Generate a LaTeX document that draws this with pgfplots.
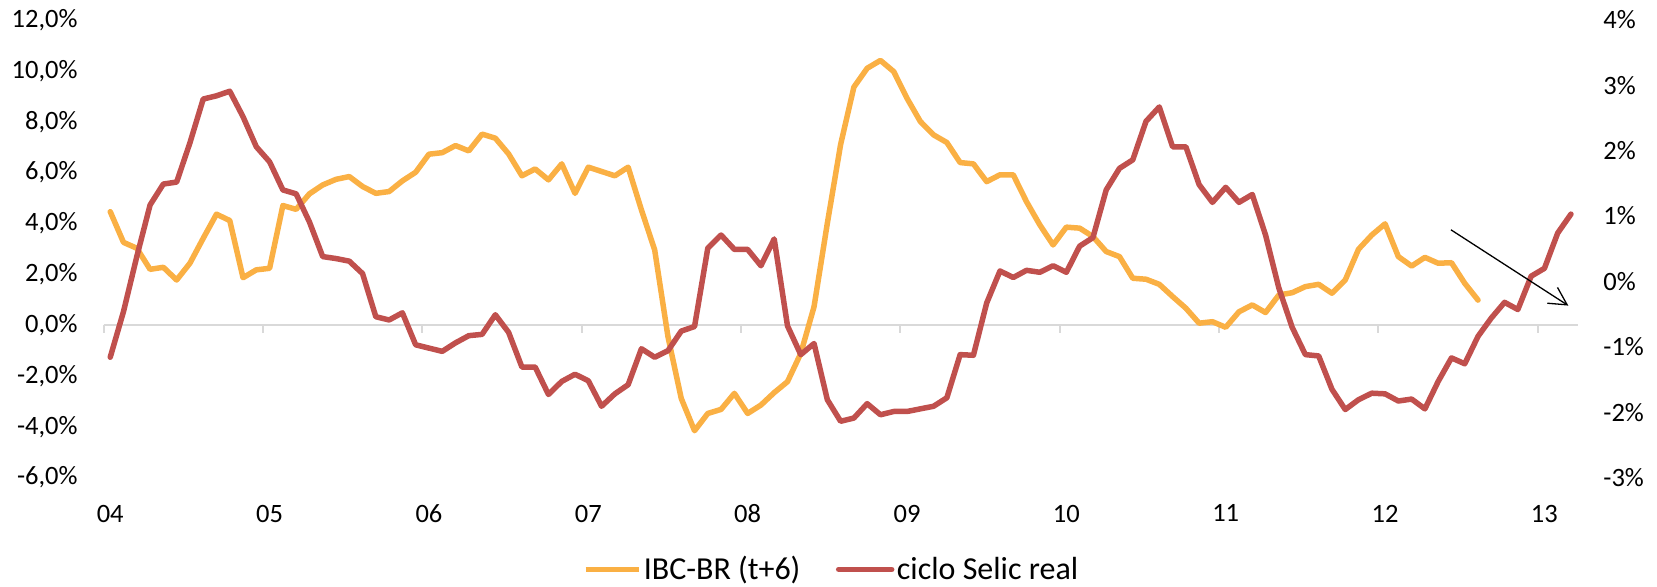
\documentclass[border=0pt]{standalone}
\usepackage{fontspec}
\setmainfont{Carlito}
\usepackage{pgfplots}
\usepackage{pgfplotstable}
\pgfplotsset{compat=1.18}
\usetikzlibrary{arrows.meta}

\definecolor{ibcorange}{RGB}{250,176,68}
\definecolor{selicred}{RGB}{192,80,77}
\definecolor{axisgray}{RGB}{217,217,217}

% month index from Jan 2004 (0) -- IBC-BR (t+6), left axis, %
\pgfplotstableread{
m v
0 4.46
1 3.25
2 3.02
3 2.19
4 2.27
5 1.77
6 2.43
7 3.41
8 4.36
9 4.11
10 1.86
11 2.17
12 2.23
13 4.70
14 4.55
15 5.16
16 5.51
17 5.73
18 5.84
19 5.45
20 5.18
21 5.25
22 5.67
23 6.01
24 6.72
25 6.78
26 7.06
27 6.85
28 7.51
29 7.35
30 6.73
31 5.87
32 6.14
33 5.71
34 6.34
35 5.18
36 6.21
37 6.04
38 5.87
39 6.21
40 4.53
41 2.95
42 -0.46
43 -2.89
44 -4.16
45 -3.48
46 -3.32
47 -2.69
48 -3.48
49 -3.15
50 -2.66
51 -2.23
52 -1.12
53 0.72
54 4.00
55 7.10
56 9.36
57 10.10
58 10.41
59 9.97
60 8.92
61 8.01
62 7.48
63 7.18
64 6.39
65 6.34
66 5.64
67 5.91
68 5.91
69 4.85
70 3.94
71 3.15
72 3.85
73 3.81
74 3.48
75 2.89
76 2.69
77 1.84
78 1.80
79 1.60
80 1.12
81 0.66
82 0.07
83 0.13
84 -0.09
85 0.52
86 0.79
87 0.49
88 1.18
89 1.27
90 1.51
91 1.60
92 1.25
93 1.77
94 2.98
95 3.54
96 3.98
97 2.69
98 2.32
99 2.66
100 2.43
101 2.45
102 1.64
103 0.98
}\ibcdata

% ciclo Selic real, right axis, %
\pgfplotstableread{
m v
0 -1.16
1 -0.46
2 0.38
3 1.17
4 1.49
5 1.52
6 2.12
7 2.79
8 2.84
9 2.91
10 2.52
11 2.06
12 1.83
13 1.40
14 1.34
15 0.91
16 0.38
17 0.35
18 0.31
19 0.12
20 -0.54
21 -0.59
22 -0.48
23 -0.97
24 -1.02
25 -1.07
26 -0.94
27 -0.83
28 -0.81
29 -0.51
30 -0.78
31 -1.31
32 -1.31
33 -1.73
34 -1.53
35 -1.42
36 -1.52
37 -1.91
38 -1.72
39 -1.58
40 -1.03
41 -1.16
42 -1.06
43 -0.76
44 -0.69
45 0.51
46 0.71
47 0.49
48 0.49
49 0.24
50 0.65
51 -0.68
52 -1.12
53 -0.95
54 -1.81
55 -2.14
56 -2.09
57 -1.87
58 -2.04
59 -1.99
60 -1.99
61 -1.95
62 -1.91
63 -1.78
64 -1.12
65 -1.13
66 -0.33
67 0.16
68 0.06
69 0.17
70 0.14
71 0.24
72 0.14
73 0.54
74 0.67
75 1.40
76 1.73
77 1.86
78 2.45
79 2.67
80 2.06
81 2.06
82 1.48
83 1.21
84 1.44
85 1.21
86 1.33
87 0.71
88 -0.10
89 -0.70
90 -1.12
91 -1.14
92 -1.65
93 -1.96
94 -1.81
95 -1.71
96 -1.72
97 -1.83
98 -1.80
99 -1.95
100 -1.53
101 -1.17
102 -1.26
103 -0.84
104 -0.56
105 -0.32
106 -0.43
107 0.08
108 0.20
109 0.74
110 1.03
}\selicdata

\pgfplotsset{
  base/.style={
    at={(0,0)}, anchor=south west,
    scale only axis, width=737pt, height=228.75pt,
    xmin=-0.5, xmax=110.5,
    axis line style={draw=none},
    major tick length=0pt,
    clip=false,
    ticklabel style={font=\fontsize{13.25}{15}\selectfont, text=black},
  },
  ibcline/.style={color=ibcorange, line width=2.75pt, line join=round, line cap=round},
  selicline/.style={color=selicred, line width=2.75pt, line join=round, line cap=round},
}

\begin{document}
\begin{tikzpicture}
\useasboundingbox (-51.8pt,-54.75pt) rectangle (776.7pt,238.75pt);

\begin{axis}[base,
  ymin=-6, ymax=12,
  axis x line*=bottom, axis y line*=left,
  ytick={-6,-4,...,12},
  yticklabels={{-6,0\%},{-4,0\%},{-2,0\%},{0,0\%},{2,0\%},{4,0\%},{6,0\%},{8,0\%},{10,0\%},{12,0\%}},
  yticklabel style={anchor=east, inner sep=0pt, xshift=-12.8pt},
  xtick={0,12,...,108},
  xticklabels={04,05,06,07,08,09,10,11,12,13},
  xticklabel style={anchor=north, inner sep=0pt, yshift=-13.5pt},
]
\draw[axisgray, line width=1pt] (axis cs:-0.5,0) -- (axis cs:110.5,0);
\pgfplotsinvokeforeach{-0.5,11.5,23.5,35.5,47.5,59.5,71.5,83.5,95.5,107.5}{
  \draw[axisgray, line width=1pt] (axis cs:#1,0) -- ++(0pt,-4pt);
}
\addplot[ibcline] table[x=m, y=v] {\ibcdata};
\end{axis}

\begin{axis}[base,
  ymin=-3, ymax=4,
  axis x line=none, axis y line*=right,
  ytick={-3,-2,...,4},
  yticklabels={-3\%,-2\%,-1\%,0\%,1\%,2\%,3\%,4\%},
  yticklabel style={anchor=west, inner sep=0pt, xshift=12.7pt},
  legend columns=-1,
  legend style={draw=none, fill=none, at={(0.494,-0.201)}, anchor=center,
    font=\fontsize{16}{19}\selectfont,
    nodes={inner sep=1.25pt},
    /tikz/every even column/.append style={column sep=16.5pt}},
  legend image code/.code={\draw[#1] (0pt,0pt) -- (26.5pt,0pt);},
]
\addlegendimage{ibcline, line cap=butt}
\addlegendentry{IBC-BR (t+6)}
\addplot[selicline] table[x=m, y=v] {\selicdata};
\addlegendentry{ciclo Selic real}
\draw[black, line width=0.65pt, -{Straight Barb[length=8.8pt, width=9.4pt]}]
  (axis cs:100.96,0.79) -- (axis cs:109.8,-0.37);
\end{axis}
\end{tikzpicture}
\end{document}
